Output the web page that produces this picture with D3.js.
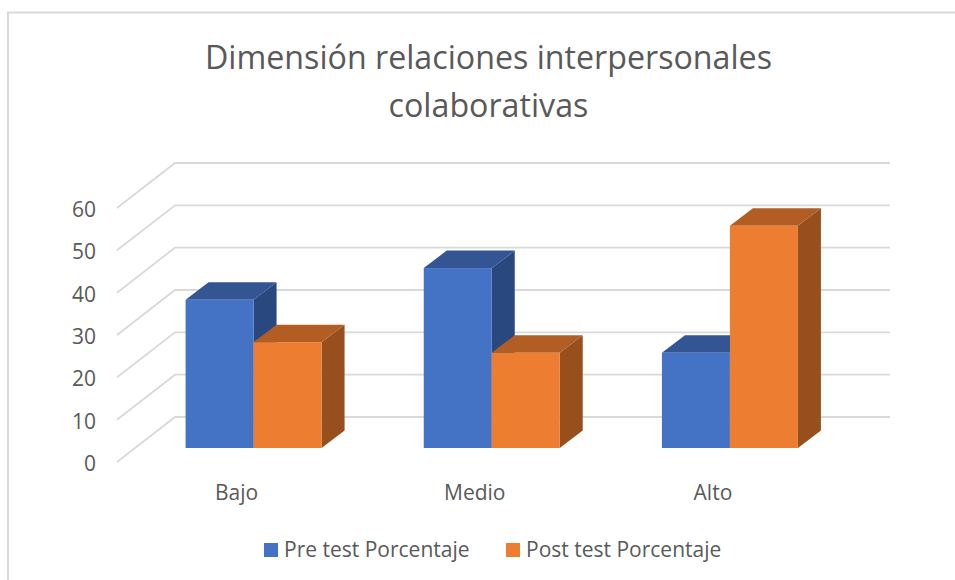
<!DOCTYPE html>
<html><head><meta charset="utf-8">
<script src="https://cdn.jsdelivr.net/npm/d3@7"></script>
<style>html,body{margin:0;padding:0;background:#fff}svg{display:block}text{font-family:"Open Sans",sans-serif;fill:#595959}</style>
</head><body><svg id="c" width="955" height="580"></svg>
<script>
const titleLines = ["Dimensión relaciones interpersonales", "colaborativas"];
const categories = ["Bajo", "Medio", "Alto"];
const seriesNames = ["Pre test Porcentaje", "Post test Porcentaje"];
const preValues = [35, 42.5, 22.5];
const postValues = [25, 22.5, 52.5];
const yTicks = [0, 10, 20, 30, 40, 50, 60];
const frontColors = ["#4472C4", "#ED7D31"];
const topColors = ["#335593", "#B25D24"];
const sideColors = ["#2A4880", "#964F1D"];

const svg = d3.select("#c");
svg.append("path").attr("d", "M8,580V12.5H955").attr("fill", "none").attr("stroke", "#D9D9D9").attr("stroke-width", 2);

svg.selectAll(".t").data(titleLines).join("text").attr("class", "t")
  .attr("x", 488.5).attr("y", (d, i) => 69 + i * 48).attr("text-anchor", "middle")
  .attr("font-size", 32.2).text(d => d);

const y = d3.scaleLinear().domain([0, 60]).range([417, 163]);
const x = d3.scaleBand().domain(categories).range([117, 831.5]);
const depth = {dx: 58, dy: 45};
const barDepth = {dx: 23, dy: 17.5};
const inset = {dx: 17.5, dy: 14};
const bw = 68;

const grid = svg.append("g");
yTicks.forEach(t => {
  grid.append("path")
    .attr("d", `M${x.range()[0]},${y(t) + depth.dy}L${x.range()[0] + depth.dx},${y(t)}H890`)
    .attr("fill", "none").attr("stroke", "#D9D9D9").attr("stroke-width", 1.8);
  svg.append("text").attr("x", 96).attr("y", y(t) + depth.dy + 1.5).attr("dy", "0.35em")
    .attr("text-anchor", "end").attr("font-size", 21).text(t);
});

const series = [preValues, postValues];
categories.forEach((c, ci) => {
  const cx = x(c) + x.bandwidth() / 2 + inset.dx;
  series.forEach((vals, si) => {
    const x0 = cx + (si - 1) * bw, x1 = x0 + bw;
    const base = y(0) + depth.dy - inset.dy;
    const top = base - (y(0) - y(vals[ci]));
    const g = svg.append("g");
    g.append("path").attr("fill", sideColors[si])
      .attr("d", `M${x1},${base}L${x1 + barDepth.dx},${base - barDepth.dy}V${top - barDepth.dy}L${x1},${top}Z`);
    g.append("path").attr("fill", topColors[si])
      .attr("d", `M${x0},${top}L${x0 + barDepth.dx},${top - barDepth.dy}H${x1 + barDepth.dx}L${x1},${top}Z`);
    g.append("rect").attr("x", x0).attr("y", top).attr("width", bw).attr("height", base - top).attr("fill", frontColors[si]);
  });
  svg.append("text").attr("x", x(c) + x.bandwidth() / 2 + 0.5).attr("y", 500).attr("text-anchor", "middle")
    .attr("font-size", 21).text(c);
});

const legendX = [264, 506];
seriesNames.forEach((n, i) => {
  svg.append("rect").attr("x", legendX[i]).attr("y", 543).attr("width", 14).attr("height", 14).attr("fill", frontColors[i]);
  svg.append("text").attr("x", legendX[i] + 20).attr("y", 557).attr("font-size", 21).text(n);
});
</script></body></html>
